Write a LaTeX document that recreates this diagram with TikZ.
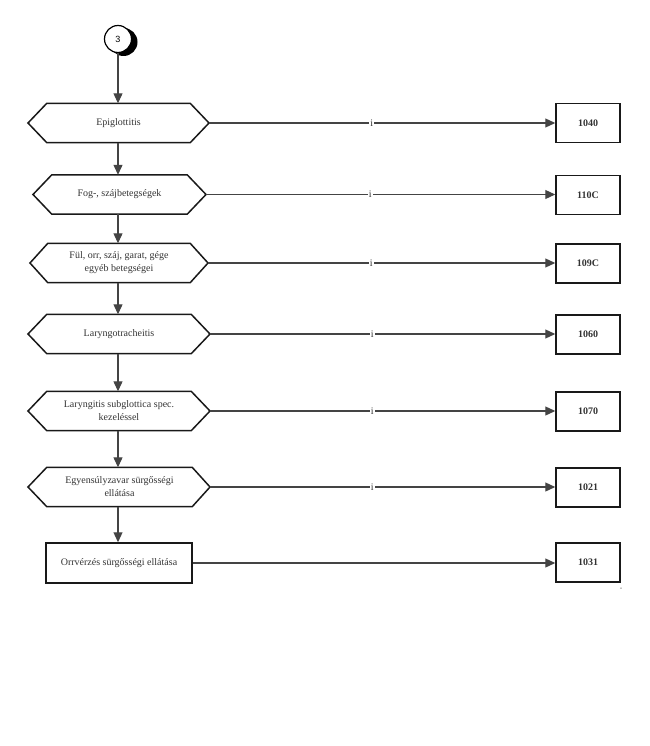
\documentclass[tikz,border=0pt]{standalone}
\usepackage{fontspec}
\setmainfont{Liberation Serif}
\newfontfamily\arialfont{Liberation Sans}
\usetikzlibrary{arrows.meta,calc}
\definecolor{linegray}{HTML}{444444}
\definecolor{txtgray}{HTML}{333333}
\tikzset{
  hexbody/.style={draw=none,inner sep=0pt,align=center,text=txtgray,font=\fontsize{10}{13}\selectfont},
  hexline/.style={draw=black!90,line width=1.5pt,line join=miter},
  codebox/.style={draw=black!90,line width=1.5pt,minimum width=64pt,minimum height=39pt,inner sep=0pt,font=\bfseries\fontsize{10}{12}\selectfont,text=txtgray},
  rectbox/.style={draw=black!90,line width=1.5pt,inner sep=0pt,font=\fontsize{10}{12}\selectfont,text=txtgray},
  flow/.style={draw=linegray,line width=1.2pt,-{Triangle[length=10pt,width=9pt]}},
  ilabel/.style={fill=white,inner sep=1pt,font=\fontsize{10}{12}\selectfont,text=txtgray}
}
\newcommand{\hexnode}[6]{% name, x-left-point, x-left-corner, x-right-corner, x-right-point, y-center
  \node[hexbody,minimum width=#4pt-#3pt,minimum height=39pt] (#1) at ({(#3+#4)/2},#6) {};
  \coordinate (#1L) at (#2,#6);
  \coordinate (#1R) at (#5,#6);
  \draw[hexline] (#1L) -- (#1.north west) -- (#1.north east) -- (#1R) -- (#1.south east) -- (#1.south west) -- cycle;
}
\begin{document}
\begin{tikzpicture}[x=1pt,y=-1pt]
\useasboundingbox (0,0) rectangle (649,746);
% start circle
\fill[black] (123.5,42) circle (14);
\node[circle,draw=black,line width=1.2pt,fill=white,minimum size=27pt,inner sep=0pt,font=\arialfont\fontsize{9}{10}\selectfont] (c3) at (118,39) {3};

% hexagons
\hexnode{h1}{28}{47}{190}{209}{123}
\node[hexbody] at (h1) {Epiglottitis};
\hexnode{h2}{33}{52}{187}{206}{194.5}
\node[hexbody] at (h2) {Fog-, szájbetegségek};
\hexnode{h3}{30}{48}{190}{208}{263}
\node[hexbody] at (h3) {Fül, orr, száj, garat, gége\\egyéb betegségei};
\hexnode{h4}{28}{47}{191}{210}{334}
\node[hexbody] at (h4) {Laryngotracheitis};
\hexnode{h5}{28}{47}{191}{210}{411}
\node[hexbody] at (h5) {Laryngitis subglottica spec.\\kezeléssel};
\hexnode{h6}{28}{47}{192}{210}{487}
\node[hexbody] at (h6) {Egyensúlyzavar sürgősségi\\ellátása};
\node[rectbox,minimum width=146pt,minimum height=40pt] (h7) at (119,563) {Orrvérzés sürgősségi ellátása};

% code boxes
\node[codebox] (b1) at (588,123) {1040};
\node[codebox] (b2) at (588,195) {110C};
\node[codebox] (b3) at (588,263.5) {109C};
\node[codebox] (b4) at (588,334.5) {1060};
\node[codebox] (b5) at (588,411.5) {1070};
\node[codebox] (b6) at (588,487.5) {1021};
\node[codebox] (b7) at (588,562.5) {1031};

% vertical flow
\draw[flow] (c3) -- (h1.north -| c3);
\draw[flow] (h1.south -| c3) -- (h2.north -| c3);
\draw[flow] (h2.south -| c3) -- (h3.north -| c3);
\draw[flow] (h3.south -| c3) -- (h4.north -| c3);
\draw[flow] (h4.south -| c3) -- (h5.north -| c3);
\draw[flow] (h5.south -| c3) -- (h6.north -| c3);
\draw[flow] (h6.south -| c3) -- (h7.north -| c3);

% horizontal connectors
\foreach \i in {1,...,6}{
  \draw[flow] (h\i R) -- (b\i.west |- h\i R) node[ilabel,pos=0.47] {i};
}
\draw[flow] (h7.east) -- (b7.west |- h7.east);

\node[font=\fontsize{5}{5}\selectfont,text=txtgray,inner sep=0pt] (mk) at (621,590) {''};
\end{tikzpicture}
\end{document}
